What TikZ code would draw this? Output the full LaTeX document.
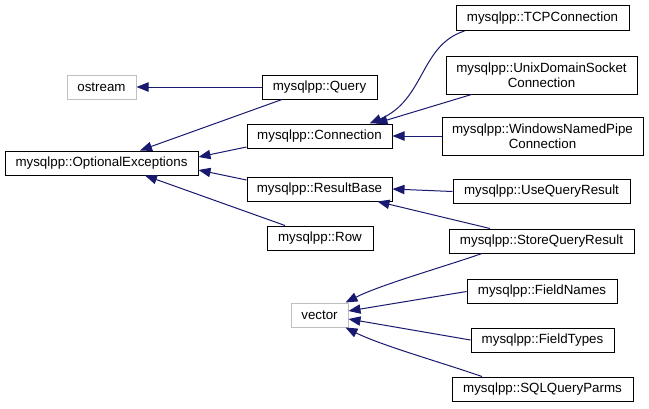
\documentclass[tikz,border=0pt]{standalone}
\usepackage{fontspec}
\setmainfont{Liberation Sans}
\usetikzlibrary{arrows.meta,calc}
\definecolor{edgeblue}{HTML}{191970}
\definecolor{extgray}{HTML}{BFBFBF}
\begin{document}
\begin{tikzpicture}[x=0.75pt,y=-0.75pt,
  cls/.style={draw=black,line width=0.75pt,fill=white,inner sep=0pt,align=center,
    font=\fontsize{10}{11.5}\selectfont,minimum height=18pt},
  ext/.style={cls,draw=extgray},
  edge/.style={draw=edgeblue,line width=0.75pt,-{Triangle[length=9pt,width=7pt]}}]
\useasboundingbox (0,0) rectangle (649,408);
% nodes
\node[ext,minimum width=51.75pt] (ostream) at (101.5,87) {ostream};
\node[cls,minimum width=86.25pt] (query) at (319.5,87) {mysqlpp::Query};
\node[cls,minimum width=108.75pt] (conn) at (319.5,136) {mysqlpp::Connection};
\node[cls,minimum width=144.75pt] (opt) at (101.5,163) {mysqlpp::OptionalExceptions};
\node[cls,minimum width=108.75pt] (rb) at (319.5,189) {mysqlpp::ResultBase};
\node[cls,minimum width=79.5pt] (row) at (320,238) {mysqlpp::Row};
\node[cls,minimum width=129.75pt,minimum height=18.75pt] (tcp) at (542.5,18) {mysqlpp::TCPConnection};
\node[cls,minimum width=143.25pt,minimum height=28.5pt] (unix) at (541.5,75) {mysqlpp::UnixDomainSocket\\Connection};
\node[cls,minimum width=150.75pt,minimum height=28.5pt] (win) at (542.5,136) {mysqlpp::WindowsNamedPipe\\Connection};
\node[cls,minimum width=132.75pt] (uqr) at (541.5,191.5) {mysqlpp::UseQueryResult};
\node[cls,minimum width=138.75pt] (sqr) at (541.5,241) {mysqlpp::StoreQueryResult};
\node[ext,minimum width=42.75pt] (vector) at (319.5,315) {vector};
\node[cls,minimum width=112.5pt] (fn) at (542,291.5) {mysqlpp::FieldNames};
\node[cls,minimum width=107.25pt] (ft) at (542.5,340) {mysqlpp::FieldTypes};
\node[cls,minimum width=135.75pt] (sqp) at (542.5,389) {mysqlpp::SQLQueryParms};
% edges
\draw[edge] (query.west) -- (ostream.east);
\draw[edge] ($(query.south)+(-37.5,0)$) -- ($(opt.north)+(38.5,0)$);
\draw[edge] ($(conn.west)+(0,11)$) -- ($(opt.east)+(0,-6)$);
\draw[edge] ($(rb.west)+(0,-9)$) -- ($(opt.east)+(0,7)$);
\draw[edge] ($(row.north)+(-35,0)$) -- ($(opt.south)+(43.5,0)$);
\draw[edge] ($(tcp.south)+(-78,0)$) .. controls (420,45) and (425,100) .. ($(conn.north)+(50,0)$);
\draw[edge] ($(unix.south)+(-70,0)$) -- ($(conn.north)+(56,0)$);
\draw[edge] (win.west) -- (conn.east);
\draw[edge] (uqr.west) -- (rb.east);
\draw[edge] ($(sqr.north)+(-51.5,0)$) -- ($(rb.south)+(58,0)$);
\draw[edge] ($(sqr.south)+(-59.5,0)$) .. controls (440,268) and (380,285) .. ($(vector.north)+(26,0)$);
\draw[edge] (fn.west) -- ($(vector.east)+(0,-4)$);
\draw[edge] (ft.west) -- ($(vector.east)+(0,4)$);
\draw[edge] ($(sqp.north)+(-60.5,0)$) .. controls (440,362) and (380,345) .. ($(vector.south)+(26,0)$);
\end{tikzpicture}
\end{document}
